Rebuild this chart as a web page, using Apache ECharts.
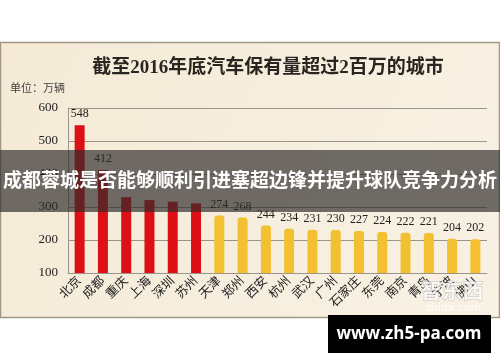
<!DOCTYPE html>
<html><head><meta charset="utf-8">
<script src="https://cdn.jsdelivr.net/npm/echarts@6/dist/echarts.min.js"></script>
<style>html,body{margin:0;padding:0;background:#fff}#c{width:500px;height:362px}</style>
</head><body><div id="c"></div>
<script>
var cities = ['北京','成都','重庆','上海','深圳','苏州','天津','郑州','西安','杭州','武汉','广州','石家庄','东莞','南京','青岛','宁波','佛山'];
var values = [548,412,330,321,316,311,274,268,244,234,231,230,227,224,222,221,204,202];
var redCount = 6;
var hiddenLabels = ['重庆','上海','深圳','苏州'];
var yTicks = [100,200,300,400,500,600];

var chart = echarts.init(document.getElementById('c'));
var serif = '"Liberation Serif","Noto Sans CJK SC",serif';
chart.setOption({
  animation:false,
  title:{text:'截至2016年底汽车保有量超过2百万的城市',left:263,textAlign:'center',top:54,
    textStyle:{fontFamily:serif,fontWeight:'bold',fontSize:19,color:'#2a2520'}},
  graphic:[
    {type:'rect',z:-10,shape:{x:0.5,y:42.5,width:499,height:275},
      style:{fill:new echarts.graphic.LinearGradient(0,0,1,1,[{offset:0,color:'#f4ead6'},{offset:1,color:'#f8f1e4'}]),stroke:'#a09682',lineWidth:1.5}},
    {type:'text',z:5,left:10,top:82,style:{text:'单位：万辆',font:'11px "Noto Sans CJK SC"',fill:'#444'}},
    {type:'rect',z:100,shape:{x:0,y:150,width:500,height:62},style:{fill:'rgba(45,43,41,0.68)'}},
    {type:'text',z:101,left:'center',top:170,style:{text:'成都蓉城是否能够顺利引进塞超边锋并提升球队竞争力分析',font:'bold 19px "Noto Sans CJK SC"',fill:'#fff'}},
    {type:'text',z:50,left:420,top:279,style:{text:'智东西',font:'bold 21px "Noto Sans CJK SC"',fill:'rgba(255,255,255,0.75)',stroke:'rgba(150,150,150,0.5)',lineWidth:1}},
    {type:'text',z:50,left:425,top:303,style:{text:'zhidx.com',font:'11px "DejaVu Sans"',fill:'rgba(255,255,255,0.8)'}},
    {type:'rect',z:100,shape:{x:328,y:315,width:163,height:38},style:{fill:'#000'}},
    {type:'text',z:101,x:409,y:334,style:{text:'www.zh5-pa.com',font:'bold 17px "Open Sans"',fill:'#fff',textAlign:'center',textVerticalAlign:'middle'}}
  ],
  grid:{left:68,right:13,top:108,bottom:89},
  xAxis:{type:'category',data:cities,
    axisLine:{show:true,lineStyle:{color:'#9a9588'}},axisTick:{show:false},
    axisLabel:{rotate:45,interval:0,margin:6,fontFamily:serif,fontSize:12.5,color:'#222'}},
  yAxis:{type:'value',min:100,max:600,interval:100,
    axisLine:{show:true,lineStyle:{color:'#9a9588'}},axisTick:{show:false},
    splitLine:{lineStyle:{color:'#9a9588',width:1}},
    axisLabel:{margin:10,fontFamily:serif,fontSize:13,color:'#222',
      formatter:function(v){return yTicks.indexOf(v)>=0?String(v):'';}}},
  series:[{type:'bar',barWidth:10,
    data:values.map(function(v,i){return {value:v,
      label:{show:hiddenLabels.indexOf(cities[i])<0},
      itemStyle:{color:i<redCount?'#dd1016':'#f2c030',borderRadius:i<redCount?0:[3,3,0,0]}};}),
    label:{show:true,position:'top',distance:5,fontFamily:serif,fontSize:12,color:'#222'}}]
});
</script></body></html>
